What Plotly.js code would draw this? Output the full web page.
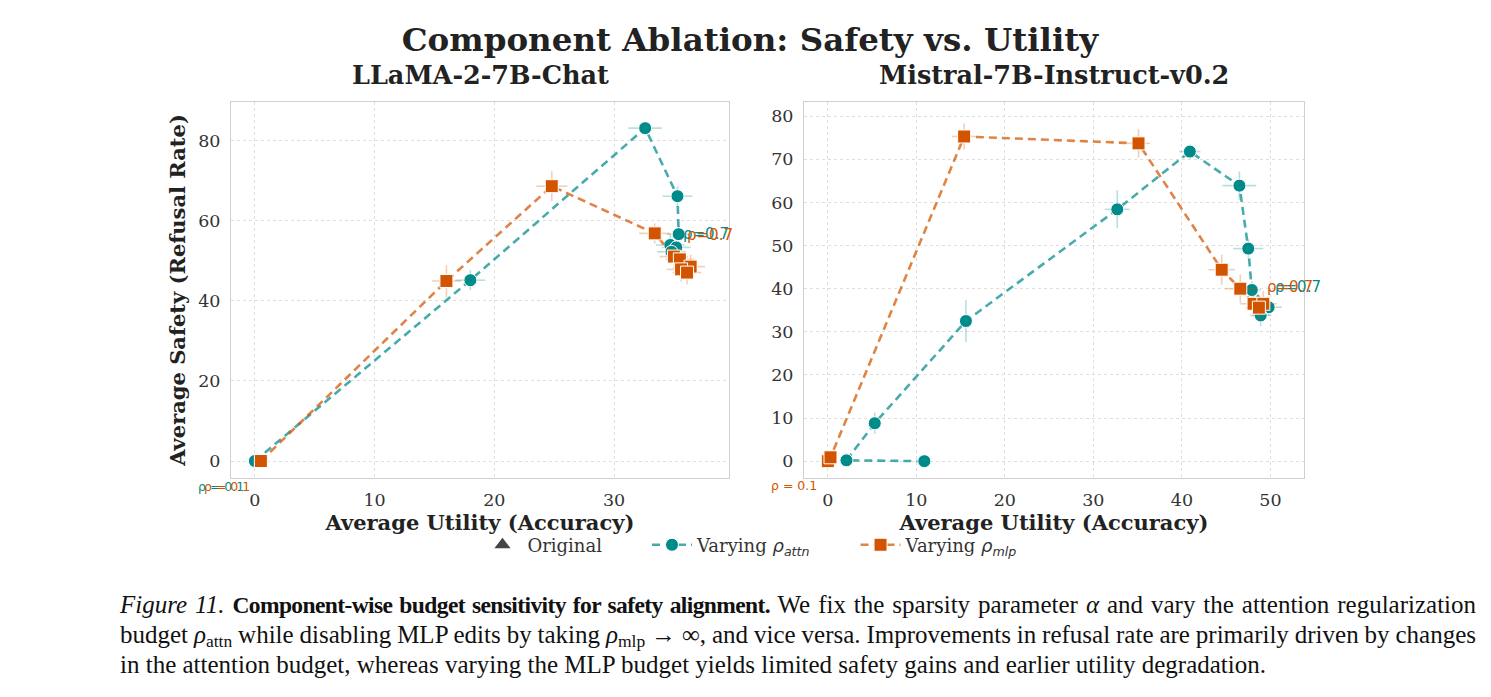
<!DOCTYPE html>
<html>
<head>
<meta charset="utf-8">
<script src="https://cdn.plot.ly/plotly-3.0.1.min.js"></script>
<style>
  html, body { margin:0; padding:0; background:#fff; }
  #wrap { position:relative; width:1491px; height:697px; overflow:hidden; }
  #chart { position:absolute; left:0; top:0; width:1491px; height:697px; }
  #caption { position:absolute; left:120px; top:590px; width:1356px; font-family:"Liberation Serif", "Times New Roman", serif; font-size:25px; line-height:30px; color:#111; }
  #caption .ln { white-space:nowrap; text-align:justify; text-align-last:justify; }
  #caption .tight { word-spacing:-1px; }
  #caption .last { text-align:left; text-align-last:left; }
  #caption b { font-size:23.5px; letter-spacing:-0.6px; }
  sub { font-size:70%; vertical-align:-0.25em; line-height:0; }
</style>
</head>
<body>
<div id="wrap">
  <div id="chart"></div>
  <div id="caption">
    <div class="ln"><i>Figure 11.</i> <b>Component-wise budget sensitivity for safety alignment.</b> We fix the sparsity parameter <i>α</i> and vary the attention regularization</div>
    <div class="ln tight">budget <i>ρ</i><sub>attn</sub> while disabling MLP edits by taking <i>ρ</i><sub>mlp</sub> → ∞, and vice versa. Improvements in refusal rate are primarily driven by changes</div>
    <div class="ln last">in the attention budget, whereas varying the MLP budget yields limited safety gains and earlier utility degradation.</div>
  </div>
</div>
<script>
// ---------------- data ----------------
const panelTitles = ["LLaMA-2-7B-Chat", "Mistral-7B-Instruct-v0.2"];
const PAD = "\u00A0\u00A0\u00A0\u00A0\u00A0\u00A0\u00A0";
const seriesNames = ["Original" + PAD,
  "Varying <span style='font-family:DejaVu Sans'><i>ρ<sub>attn</sub></i></span>" + PAD,
  "Varying <span style='font-family:DejaVu Sans'><i>ρ<sub>mlp</sub></i></span>"];

// LLaMA-2-7B-Chat, varying rho_attn
const llamaAttnX    = [0.0, 18.0, 32.6, 35.3, 35.4, 34.7, 35.2, 34.8];
const llamaAttnY    = [0.0, 45.2, 83.2, 66.2, 56.7, 54.0, 53.4, 52.3];
const llamaAttnXErr = [0.3, 1.25, 1.4, 1.25, 1.0, 1.2, 1.2, 1.2];
const llamaAttnYErr = [0.3, 2.5, 1.5, 2.5, 2.0, 2.5, 2.5, 2.5];

// LLaMA-2-7B-Chat, varying rho_mlp
const llamaMlpX    = [0.5, 16.0, 24.8, 33.4, 35.0, 35.5, 36.4, 35.6, 36.1];
const llamaMlpY    = [0.0, 45.0, 68.7, 56.9, 51.1, 50.4, 48.6, 47.9, 47.1];
const llamaMlpXErr = [0.2, 1.2, 1.3, 1.3, 1.2, 1.2, 1.2, 1.2, 1.2];
const llamaMlpYErr = [0.3, 4.0, 3.75, 2.5, 3.0, 3.0, 3.0, 3.0, 3.0];

// Mistral-7B-Instruct-v0.2, varying rho_attn
const mistralAttnX    = [10.9, 2.1, 5.3, 15.6, 32.7, 40.9, 46.5, 47.5, 47.9, 49.8, 48.9];
const mistralAttnY    = [0.0, 0.2, 8.8, 32.5, 58.4, 71.8, 63.9, 49.3, 39.7, 35.7, 33.8];
const mistralAttnXErr = [0.2, 0.2, 0.4, 0.5, 1.4, 1.2, 1.9, 1.7, 1.0, 1.5, 1.2];
const mistralAttnYErr = [0.2, 0.3, 2.5, 4.9, 4.4, 1.6, 3.3, 2.1, 2.0, 2.0, 2.5];

// Mistral-7B-Instruct-v0.2, varying rho_mlp
const mistralMlpX    = [0.0, 0.3, 15.4, 35.1, 44.5, 46.6, 48.1, 49.2, 48.7];
const mistralMlpY    = [0.0, 0.9, 75.3, 73.7, 44.4, 40.0, 36.5, 36.5, 35.6];
const mistralMlpXErr = [0.2, 0.2, 1.4, 1.3, 1.5, 1.7, 1.5, 1.5, 1.5];
const mistralMlpYErr = [0.3, 0.5, 3.0, 3.3, 3.5, 3.3, 3.0, 3.0, 3.0];

const rhoLabels = ["ρ = 0.1", "ρ=0.7"];
// label positions (data coords) for rho = 0.7 labels
const llamaRho7Attn = [35.6, 56.7];
const llamaRho7Mlp  = [35.9, 56.6];
const mistralRho7Attn = [50.3, 40.3];
const mistralRho7Mlp  = [49.4, 40.3];

// ---------------- style ----------------
const TEAL = "#008b8b", TEAL_LINE = "rgba(0,139,139,0.72)", TEAL_ERR = "rgba(0,139,139,0.28)";
const ORNG = "#d35400", ORNG_LINE = "rgba(211,84,0,0.72)", ORNG_ERR = "rgba(211,84,0,0.28)";
const SERIF = "DejaVu Serif, serif";
const SANS = "DejaVu Sans, sans-serif";

function series(x, y, ex, ey, xa, ya, kind, showlegend) {
  const teal = kind === "attn";
  return {
    type: "scatter", mode: "lines+markers", x: x, y: y, xaxis: xa, yaxis: ya,
    name: teal ? seriesNames[1] : seriesNames[2],
    legendgroup: kind, showlegend: showlegend,
    line: { color: teal ? TEAL_LINE : ORNG_LINE, width: 2.6, dash: "8px,5px" },
    marker: { symbol: teal ? "circle" : "square", size: 13, color: teal ? TEAL : ORNG, line: { color: "#fff", width: 1 } },
    error_x: { type: "data", array: ex, visible: true, color: teal ? TEAL_ERR : ORNG_ERR, thickness: 1.6, width: 0 },
    error_y: { type: "data", array: ey, visible: true, color: teal ? TEAL_ERR : ORNG_ERR, thickness: 1.6, width: 0 },
    hoverinfo: "x+y"
  };
}

const traces = [
  { type: "scatter", mode: "markers", x: [null], y: [null], name: seriesNames[0], showlegend: true,
    marker: { symbol: "triangle-up", size: 14, color: "#444" }, xaxis: "x", yaxis: "y" },
  series(llamaAttnX, llamaAttnY, llamaAttnXErr, llamaAttnYErr, "x", "y", "attn", true),
  series(mistralAttnX, mistralAttnY, mistralAttnXErr, mistralAttnYErr, "x2", "y2", "attn", false),
  series(llamaMlpX, llamaMlpY, llamaMlpXErr, llamaMlpYErr, "x", "y", "mlp", true),
  series(mistralMlpX, mistralMlpY, mistralMlpXErr, mistralMlpYErr, "x2", "y2", "mlp", false)
];

const gridStyle = {
  showgrid: true, gridcolor: "#dedede", griddash: "dot", gridwidth: 1,
  zeroline: false, showline: true, mirror: true, linecolor: "#cfcfcf", linewidth: 1,
  ticks: "", tickfont: { family: SERIF, size: 17.5, color: "#333" }, ticklabelstandoff: 6
};
const xTitle = { text: "Average Utility (Accuracy)", font: { family: SERIF, size: 21, color: "#222", weight: "bold" }, standoff: 4 };
const yTitle = { text: "Average Safety (Refusal Rate)", font: { family: SERIF, size: 21, color: "#222", weight: "bold" }, standoff: 6 };
const yDom = [0.3142, 0.8537];

const layout = {
  width: 1491, height: 697,
  margin: { l: 0, r: 0, t: 0, b: 0 },
  paper_bgcolor: "#fff", plot_bgcolor: "#fff",
  title: { text: "Component Ablation: Safety vs. Utility", font: { family: SERIF, size: 32.5, color: "#222", weight: "bold" },
           x: 0.503, xanchor: "center", xref: "paper", y: 0.943, yanchor: "middle", yref: "paper" },
  xaxis: Object.assign({}, gridStyle, { domain: [0.1549, 0.4889], range: [-2.0, 39.6], tickvals: [0, 10, 20, 30], anchor: "y", title: xTitle }),
  yaxis: Object.assign({}, gridStyle, { domain: yDom, range: [-4.25, 89.75], tickvals: [0, 20, 40, 60, 80], anchor: "x", title: yTitle }),
  xaxis2: Object.assign({}, gridStyle, { domain: [0.5392, 0.8746], range: [-2.7, 53.8], tickvals: [0, 10, 20, 30, 40, 50], anchor: "y2", title: xTitle }),
  yaxis2: Object.assign({}, gridStyle, { domain: yDom, range: [-3.9, 83.3], tickvals: [0, 10, 20, 30, 40, 50, 60, 70, 80], anchor: "x2" }),
  showlegend: true,
  legend: { orientation: "h", x: 0.503, xanchor: "center", y: 0.218, yanchor: "middle",
            font: { family: SERIF, size: 18, color: "#333" }, bgcolor: "rgba(0,0,0,0)", itemwidth: 40, traceorder: "normal" },
  annotations: [
    { text: panelTitles[0], xref: "paper", yref: "paper", x: 0.322, y: 0.892, xanchor: "center", yanchor: "middle", showarrow: false,
      font: { family: SERIF, size: 25.5, color: "#222", weight: "bold" } },
    { text: panelTitles[1], xref: "paper", yref: "paper", x: 0.707, y: 0.892, xanchor: "center", yanchor: "middle", showarrow: false,
      font: { family: SERIF, size: 25.5, color: "#222", weight: "bold" } },
    // rho = 0.1 labels, attached to first points
    { text: rhoLabels[0], xref: "x", yref: "y", x: llamaAttnX[0], y: llamaAttnY[0], xanchor: "right", yanchor: "middle", xshift: -9, yshift: -25,
      showarrow: false, font: { family: SANS, size: 12.5, color: TEAL } },
    { text: rhoLabels[0], xref: "x", yref: "y", x: llamaMlpX[0], y: llamaMlpY[0], xanchor: "right", yanchor: "middle", xshift: -9, yshift: -25,
      showarrow: false, font: { family: SANS, size: 12.5, color: ORNG } },
    { text: rhoLabels[0], xref: "x2", yref: "y2", x: mistralMlpX[0], y: mistralMlpY[0], xanchor: "right", yanchor: "middle", xshift: -9, yshift: -24,
      showarrow: false, font: { family: SANS, size: 12.5, color: ORNG } },
    // rho = 0.7 labels
    { text: rhoLabels[1], xref: "x", yref: "y", x: llamaRho7Attn[0], y: llamaRho7Attn[1], xanchor: "left", yanchor: "middle",
      showarrow: false, font: { family: SANS, size: 15, color: TEAL } },
    { text: rhoLabels[1], xref: "x", yref: "y", x: llamaRho7Mlp[0], y: llamaRho7Mlp[1], xanchor: "left", yanchor: "middle",
      showarrow: false, font: { family: SANS, size: 15, color: ORNG } },
    { text: rhoLabels[1], xref: "x2", yref: "y2", x: mistralRho7Attn[0], y: mistralRho7Attn[1], xanchor: "left", yanchor: "middle",
      showarrow: false, font: { family: SANS, size: 15, color: TEAL } },
    { text: rhoLabels[1], xref: "x2", yref: "y2", x: mistralRho7Mlp[0], y: mistralRho7Mlp[1], xanchor: "left", yanchor: "middle",
      showarrow: false, font: { family: SANS, size: 15, color: ORNG } }
  ]
};

Plotly.newPlot("chart", traces, layout, { displayModeBar: false, staticPlot: true });
</script>
</body>
</html>
